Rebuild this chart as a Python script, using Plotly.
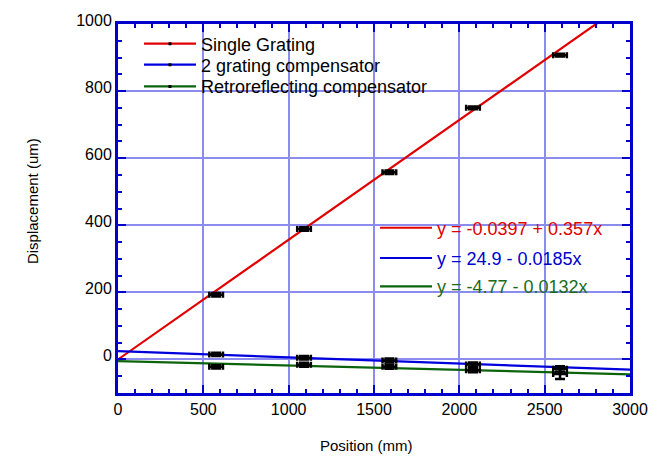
import plotly.graph_objects as go
import numpy as np

# ---- data ----
positions = [575, 1090, 1590, 2080, 2590]
single_grating = [193, 389, 558, 750, 907]
two_grating = [15, 5, -3, -15, -28]
retro = [-22, -16, -22, -32, -43]
x_err = [40, 40, 40, 40, 40]
sg_err = [5, 5, 5, 4, 4]
tg_err = [5, 5, 6, 6, 8]
rr_err = [5, 6, 6, 6, 15]

series_names = ["Single Grating", "2 grating compensator", "Retroreflecting compensator"]
fit_intercepts = [-0.0397, 24.9, -4.77]
fit_slopes = [0.357, -0.0185, -0.0132]
fit_labels = ["y = -0.0397 + 0.357x", "y = 24.9 - 0.0185x", "y = -4.77 - 0.0132x"]
line_colors = ["#e00000", "#0000dd", "#0b640b"]
text_colors = ["#e00000", "#0000cc", "#1a6b1a"]

x_ticks = [0, 500, 1000, 1500, 2000, 2500, 3000]
y_ticks = [0, 200, 400, 600, 800, 1000]

FONT = "Liberation Sans, Arial, sans-serif"
AXIS_BLUE = "#0000cc"
GRID = "rgb(140,140,240)"

# legend row positions (paper coords)
series_legend_y = [0.946, 0.889, 0.830]
fit_legend_y = [0.447, 0.365, 0.288]
series_legends = ["legend", "legend3", "legend4"]
fit_legends = ["legend2", "legend5", "legend6"]

fig = go.Figure()

# fit lines
fx = np.array([0, 3000])
for i in range(3):
    fig.add_trace(go.Scatter(
        x=fx, y=fit_intercepts[i] + fit_slopes[i] * fx,
        mode="lines", line=dict(color=line_colors[i], width=2.2),
        name=f"<span style='color:{text_colors[i]}'>{fit_labels[i]}</span>",
        legend=fit_legends[i], showlegend=True,
    ))

# data points with error bars
for ys, es in [(single_grating, sg_err), (two_grating, tg_err), (retro, rr_err)]:
    fig.add_trace(go.Scatter(
        x=positions, y=ys, mode="markers",
        marker=dict(color="black", size=3),
        error_x=dict(type="data", array=x_err, color="black", thickness=2.5, width=3),
        error_y=dict(type="data", array=es, color="black", thickness=2.5, width=5),
        showlegend=False,
    ))

# legend samples for the series
for i in range(3):
    fig.add_trace(go.Scatter(
        x=[None], y=[None], mode="lines+markers",
        line=dict(color=line_colors[i], width=2.2),
        marker=dict(color="black", size=3, symbol="square"),
        name=series_names[i], legend=series_legends[i], showlegend=True,
    ))

legend_common = dict(
    xanchor="left", yanchor="middle",
    bgcolor="rgba(0,0,0,0)", borderwidth=0, itemwidth=52,
    font=dict(family=FONT, size=18, color="black"),
)
layout_legends = {}
for i in range(3):
    layout_legends[series_legends[i]] = dict(legend_common, x=0.041, y=series_legend_y[i])
    layout_legends[fit_legends[i]] = dict(legend_common, x=0.502, y=fit_legend_y[i])

fig.update_layout(
    width=667, height=456,
    margin=dict(l=118, r=37, t=24, b=63),
    paper_bgcolor="white", plot_bgcolor="white",
    font=dict(family=FONT, size=16, color="black"),
    **layout_legends,
    annotations=[
        dict(text="Position (mm)", xref="paper", yref="paper", x=0.485, y=-0.143,
             xanchor="center", yanchor="middle", showarrow=False,
             font=dict(family=FONT, size=15, color="black")),
        dict(text="Displacement (um)", xref="paper", yref="paper", x=-0.168, y=0.52,
             xanchor="center", yanchor="middle", showarrow=False, textangle=-90,
             font=dict(family=FONT, size=15, color="black")),
    ],
)

fig.update_xaxes(
    range=[0, 3000], tickvals=x_ticks, ticktext=[str(v) for v in x_ticks],
    showgrid=True, gridcolor=GRID, gridwidth=2,
    showline=True, linecolor=AXIS_BLUE, linewidth=3, mirror="allticks",
    ticks="inside", ticklen=8, tickwidth=2, tickcolor=AXIS_BLUE,
    minor=dict(dtick=100, tick0=0, ticks="inside", ticklen=4, tickwidth=2,
               tickcolor=AXIS_BLUE, showgrid=False),
    zeroline=False, automargin=False,
    tickfont=dict(family=FONT, size=16),
)
fig.update_yaxes(
    range=[-100, 1000], tickvals=y_ticks, ticktext=[str(v) for v in y_ticks],
    showgrid=True, gridcolor=GRID, gridwidth=2,
    showline=True, linecolor=AXIS_BLUE, linewidth=3, mirror="allticks",
    ticks="inside", ticklen=8, tickwidth=2, tickcolor=AXIS_BLUE,
    minor=dict(dtick=50, tick0=0, ticks="inside", ticklen=4, tickwidth=2,
               tickcolor=AXIS_BLUE, showgrid=False),
    zeroline=False, ticklabelshift=-4, automargin=False,
    tickfont=dict(family=FONT, size=16),
)

fig.write_html("out.html")
